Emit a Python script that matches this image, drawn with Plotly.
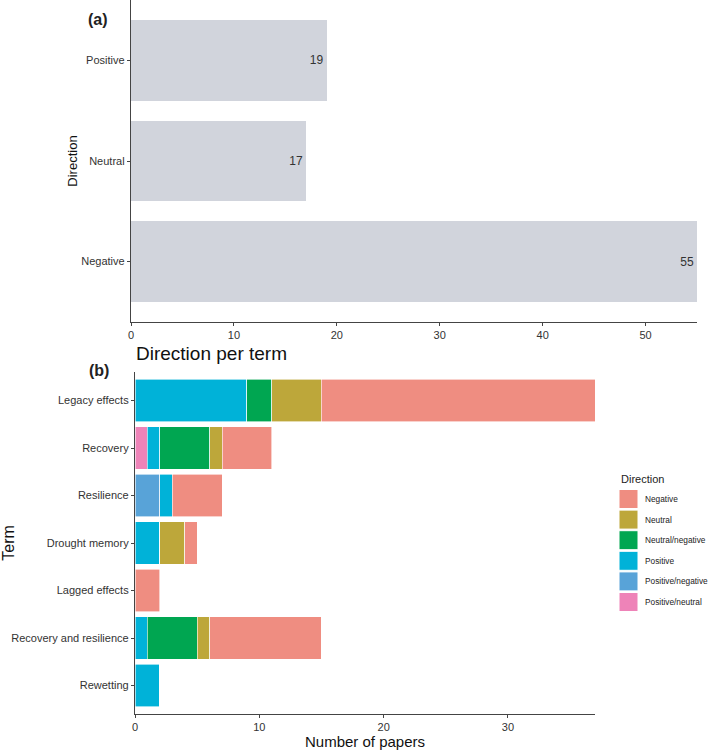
import plotly.graph_objects as go

W, H = 709, 750

# panel (a)
direcciones = ["Negative", "Neutral", "Positive"]
conteo_direccion = [55, 17, 19]

# panel (b)
terminos = ["Rewetting", "Recovery and resilience", "Lagged effects", "Drought memory",
            "Resilience", "Recovery", "Legacy effects"]
# stacked left to right
series = {
    "Positive/neutral":  [0, 0, 0, 0, 0, 1, 0],
    "Positive/negative": [0, 0, 0, 0, 2, 0, 0],
    "Positive":          [2, 1, 0, 2, 1, 1, 9],
    "Neutral/negative":  [0, 4, 0, 0, 0, 4, 2],
    "Neutral":           [0, 1, 0, 2, 0, 1, 4],
    "Negative":          [0, 9, 2, 1, 4, 4, 22],
}
colores = {
    "Negative":          "#EF8D81",
    "Neutral":           "#BDA73A",
    "Neutral/negative":  "#00A651",
    "Positive":          "#00B2D8",
    "Positive/negative": "#58A3D8",
    "Positive/neutral":  "#EE83B8",
}
orden_leyenda = ["Negative", "Neutral", "Neutral/negative", "Positive",
                 "Positive/negative", "Positive/neutral"]

FUENTE = "Liberation Sans, Arial, sans-serif"
GRIS = "#333333"


def px_x(p):
    return p / W


def px_y(p):
    return 1 - p / H


def nota(texto, x, y, size, xanchor="left", color="#222"):
    return dict(text=texto, x=px_x(x), y=px_y(y), xref="paper", yref="paper",
                xanchor=xanchor, yanchor="middle", showarrow=False,
                font=dict(size=size, family=FUENTE, color=color))


fig = go.Figure()

fig.add_trace(go.Bar(
    x=conteo_direccion, y=direcciones, orientation="h",
    marker=dict(color="#D1D4DC", line=dict(width=0)),
    text=conteo_direccion, textposition="inside", insidetextanchor="end",
    textfont=dict(size=12, color="#333333"),
    xaxis="x", yaxis="y", showlegend=False, width=0.8,
))

for nombre, valores in series.items():
    fig.add_trace(go.Bar(
        x=valores, y=terminos, orientation="h", name=nombre,
        marker=dict(color=colores[nombre], line=dict(color="white", width=0.6)),
        xaxis="x2", yaxis="y2", width=0.9, showlegend=False,
    ))

eje = dict(showgrid=False, zeroline=False, showline=True, linecolor="#444444", linewidth=1.3,
           ticks="outside", ticklen=3, tickcolor="#444444", automargin=False,
           tickfont=dict(size=11, color=GRIS, family=FUENTE))

# leyenda dibujada a mano (cuadros grandes como en ggplot)
formas = []
notas = [nota("Direction", 619, 479, 11)]
for i, nombre in enumerate(orden_leyenda):
    cy = 499 + i * 20.6
    formas.append(dict(type="rect", xref="paper", yref="paper",
                       x0=px_x(619), x1=px_x(638), y0=px_y(cy - 9.5), y1=px_y(cy + 9.5),
                       fillcolor=colores[nombre], line=dict(color="white", width=1)))
    notas.append(nota(nombre, 643, cy, 8.3))

notas += [
    nota("<b>(a)</b>", 98, 20, 16, xanchor="center"),
    nota("<b>(b)</b>", 99, 371, 16, xanchor="center"),
    nota("Direction per term", 134, 353, 19, color="#111"),
]

fig.update_layout(
    width=W, height=H, barmode="stack",
    paper_bgcolor="white", plot_bgcolor="white",
    margin=dict(l=0, r=0, t=0, b=0),
    font=dict(family=FUENTE, color="#222222"),
    showlegend=False,
    xaxis=dict(eje, domain=[px_x(131), px_x(697)], range=[0, 55], anchor="y",
               tickvals=[0, 10, 20, 30, 40, 50]),
    yaxis=dict(eje, domain=[px_y(322), px_y(0)], range=[-0.6, 2.6], anchor="x",
               title=dict(text="Direction", font=dict(size=13, family=FUENTE, color="#111"), standoff=0)),
    xaxis2=dict(eje, domain=[px_x(135), px_x(595)], range=[0, 37], anchor="y2",
                tickvals=[0, 10, 20, 30],
                title=dict(text="Number of papers", font=dict(size=15, family=FUENTE, color="#111"), standoff=0)),
    yaxis2=dict(eje, domain=[px_y(714), px_y(372)], range=[-0.6, 6.6], anchor="x2",
                title=dict(text="Term", font=dict(size=16, family=FUENTE, color="#111"), standoff=6)),
    shapes=formas,
    annotations=notas,
)

# sin margen del body para que la figura ocupe la ventana exacta
fig.write_html("out.html", config={"displayModeBar": False},
               post_script="document.body.style.margin='0';")
